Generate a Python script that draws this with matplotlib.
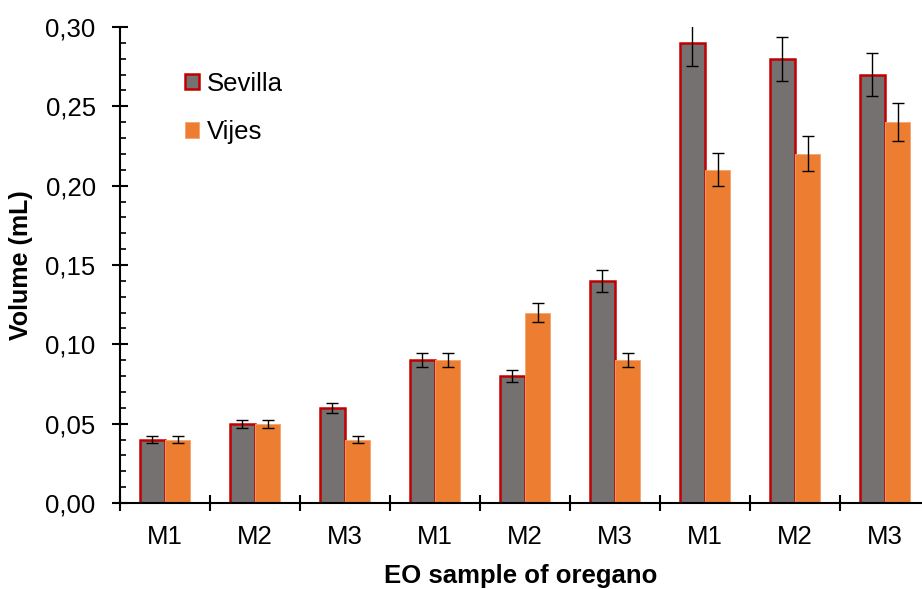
import matplotlib
matplotlib.use("Agg")
import matplotlib.pyplot as plt
import numpy as np
from matplotlib.ticker import FixedLocator, MultipleLocator, FuncFormatter

categories = ["M1", "M2", "M3", "M1", "M2", "M3", "M1", "M2", "M3"]
sevilla = [0.04, 0.05, 0.06, 0.09, 0.08, 0.14, 0.29, 0.28, 0.27]
vijes = [0.04, 0.05, 0.04, 0.09, 0.12, 0.09, 0.21, 0.22, 0.24]
sevilla_err = [0.002, 0.0025, 0.003, 0.0045, 0.004, 0.007, 0.0145, 0.014, 0.0135]
vijes_err = [0.002, 0.0025, 0.002, 0.0045, 0.006, 0.0045, 0.0105, 0.011, 0.012]

plt.rcParams['font.family'] = ['Liberation Sans', 'DejaVu Sans']

fig = plt.figure(figsize=(9.22, 5.89), dpi=100)
ax = fig.add_axes([120/922, 1 - 503/589, 802/922, 476/589])

x = np.arange(len(categories))
w = 0.28
ekw = dict(ecolor='black', elinewidth=1.0, capthick=1.0)
ax.bar(x - w/2, sevilla, w, color='#767171', edgecolor='#C00000', linewidth=1.8,
       yerr=sevilla_err, capsize=4.5, error_kw=ekw, label='Sevilla', zorder=2)
ax.bar(x + w/2, vijes, w, color='#ED7D31', edgecolor='#F4A46E', linewidth=0.6,
       yerr=vijes_err, capsize=4.5, error_kw=ekw, label='Vijes', zorder=2)

ax.set_xlim(-0.5, 8.41)
ax.set_ylim(0, 0.30)

ax.spines['top'].set_visible(False)
ax.spines['right'].set_visible(False)
ax.spines['left'].set_linewidth(1.5)
ax.spines['bottom'].set_linewidth(1.5)

ax.yaxis.set_major_locator(MultipleLocator(0.05))
ax.yaxis.set_minor_locator(MultipleLocator(0.01))
ax.yaxis.set_major_formatter(FuncFormatter(lambda v, p: f"{v:.2f}".replace('.', ',')))
ax.tick_params(axis='y', which='major', direction='inout', length=11, width=1.5,
               labelsize=18.5, pad=12)
ax.tick_params(axis='y', which='minor', direction='in', length=4.5, width=1.2)

ax.xaxis.set_major_locator(FixedLocator(np.arange(-0.5, 9.0, 1.0)))
ax.xaxis.set_major_formatter(FuncFormatter(lambda v, p: ""))
ax.xaxis.set_minor_locator(FixedLocator(x))
ax.set_xticklabels(categories, minor=True)
ax.tick_params(axis='x', which='major', direction='inout', length=11, width=1.5)
ax.tick_params(axis='x', which='minor', length=0, labelsize=18.5, pad=16)

ax.set_ylabel("Volume (mL)", fontsize=18, fontweight='bold', labelpad=9)
ax.set_xlabel("EO sample of oregano", fontsize=18.5, fontweight='bold', labelpad=11)

leg = ax.legend(loc='upper left', bbox_to_anchor=(0.052, 0.955), frameon=False,
                fontsize=18.5, handlelength=0.55, handleheight=0.55, handletextpad=0.3,
                labelspacing=0.95)

fig.savefig("out.png", dpi=100)
